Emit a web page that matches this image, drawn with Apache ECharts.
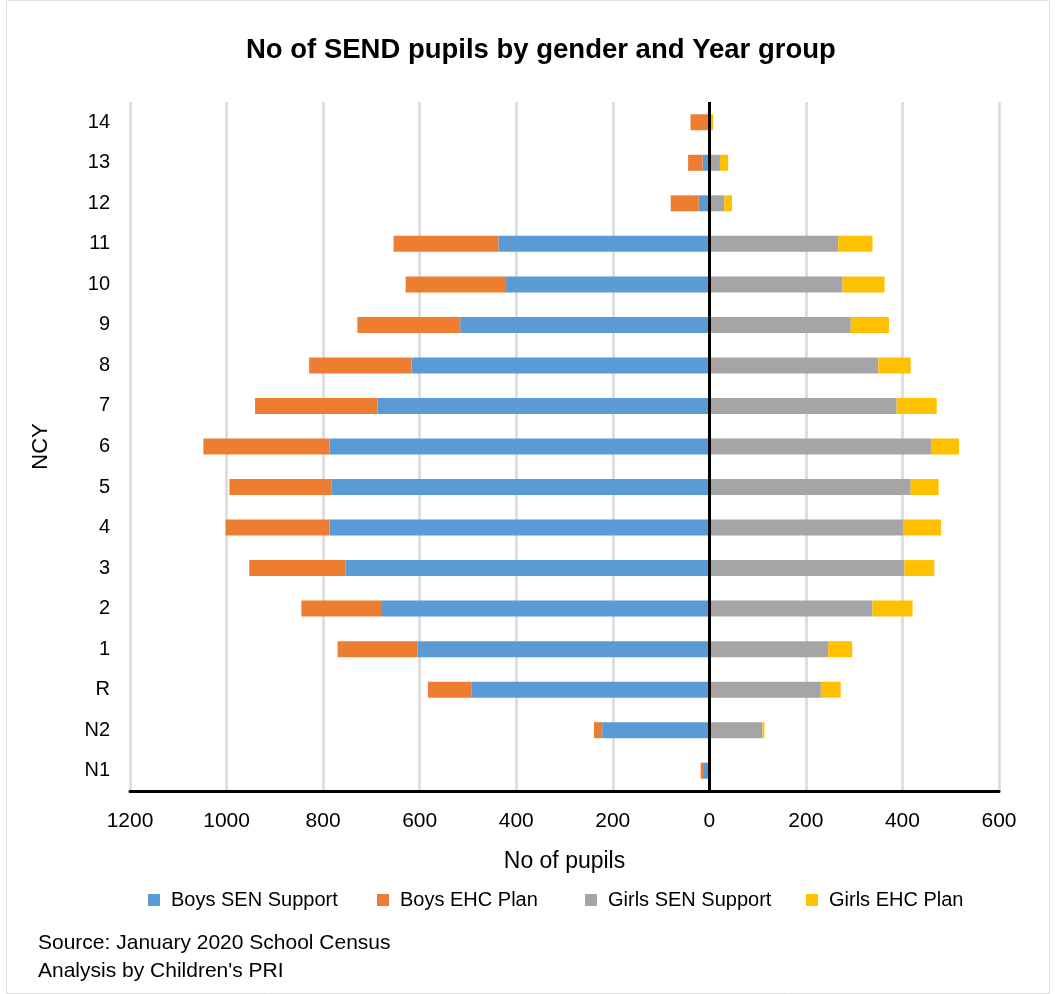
<!DOCTYPE html>
<html><head><meta charset="utf-8">
<script src="https://cdn.jsdelivr.net/npm/echarts@6/dist/echarts.min.js"></script>
<style>html,body{margin:0;padding:0;background:#fff}#c{width:1056px;height:994px}</style>
</head><body><div id="c"></div>
<script>
var categories = ['N1','N2','R','1','2','3','4','5','6','7','8','9','10','11','12','13','14'];
var boysSEN   = [13, 222, 492, 604, 678, 753, 787, 782, 787, 687, 617, 516, 421, 437, 22, 14, 0];
var boysEHC   = [5, 17, 91, 166, 167, 200, 215, 212, 261, 254, 212, 213, 208, 217, 58, 30, 39];
var girlsSEN  = [3, 110, 231, 246, 338, 404, 401, 417, 459, 388, 350, 293, 276, 267, 31, 22, 0];
var girlsEHC  = [0, 4, 41, 50, 83, 62, 79, 58, 58, 83, 67, 79, 87, 71, 16, 17, 8];
var xTicks = [-1200, -1000, -800, -600, -400, -200, 0, 200, 400, 600];

var chart = echarts.init(document.getElementById('c'), null, {renderer:'canvas'});
var FONT = 'Liberation Sans, Arial, sans-serif';
function neg(a){return a.map(function(v){return -v;});}
var names = ['Boys SEN Support','Boys EHC Plan','Girls SEN Support','Girls EHC Plan'];
var colors = ['#5B9BD5','#ED7D31','#A5A5A5','#FFC000'];
var vals = [neg(boysSEN), neg(boysEHC), girlsSEN, girlsEHC];
var legendLeft = [148, 377, 585, 806];
var series = names.map(function(n,i){
  var s = {name:n, type:'bar', stack:'all', data:vals[i], barWidth:16,
    itemStyle:{color:colors[i]}, emphasis:{disabled:true}};
  if(i===3){
    s.markLine = {silent:true, symbol:'none', label:{show:false},
      lineStyle:{color:'#000', width:3, type:'solid'}, data:[{xAxis:0}]};
  }
  return s;
});
chart.setOption({
  animation:false,
  color:colors,
  title:{text:'No of SEND pupils by gender and Year group', left:241, top:31,
    textStyle:{fontFamily:FONT, fontSize:27.5, fontWeight:'bold', color:'#000'}},
  legend: names.map(function(n,i){
    return {data:[n], left:legendLeft[i], top:890, padding:0, itemWidth:12, itemHeight:12, itemGap:10,
      icon:'rect', textStyle:{fontFamily:FONT, fontSize:20, color:'#000', padding:[0,0,0,6]}};
  }),
  grid:{left:130, right:57, top:102, bottom:203, containLabel:false},
  xAxis:{type:'value', min:-1200, max:600, interval:200,
    name:'No of pupils', nameLocation:'middle', nameGap:59,
    nameTextStyle:{fontFamily:FONT, fontSize:23, color:'#000'},
    axisLine:{show:true, onZero:false, lineStyle:{color:'#000', width:3}},
    axisTick:{show:false},
    axisLabel:{margin:20, fontFamily:FONT, fontSize:21, color:'#000',
      formatter:function(v){return xTicks.indexOf(v)>=0 ? String(Math.abs(v)) : '';}},
    splitLine:{show:true, lineStyle:{color:'#d9d9d9', width:2.5}}},
  yAxis:{type:'category', data:categories,
    name:'NCY', nameLocation:'middle', nameGap:78,
    nameTextStyle:{fontFamily:FONT, fontSize:22, color:'#000'},
    axisLine:{show:false}, axisTick:{show:false},
    axisLabel:{margin:20, fontFamily:FONT, fontSize:20, color:'#000'}},
  graphic:[
    {type:'rect', shape:{x:6.5, y:0.5, width:1043, height:993}, style:{fill:'none', stroke:'#e0e0e0', lineWidth:1}, silent:true},
    {type:'text', left:38, top:933, style:{text:'Source: January 2020 School Census', fontFamily:FONT, fontSize:21, fill:'#000'}},
    {type:'text', left:38, top:961, style:{text:"Analysis by Children's PRI", fontFamily:FONT, fontSize:21, fill:'#000'}}
  ],
  series:series
});
</script>
</body></html>
